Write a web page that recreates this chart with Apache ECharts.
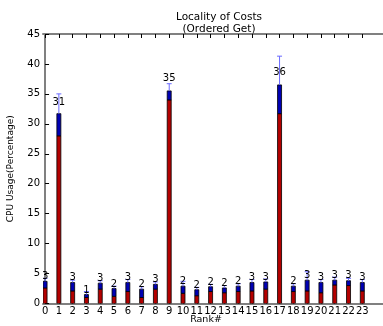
<!DOCTYPE html>
<html><head><meta charset="utf-8">
<script src="https://cdn.jsdelivr.net/npm/echarts@6/dist/echarts.min.js"></script>
<style>html,body{margin:0;padding:0;background:#fff}#c{width:383px;height:326px}</style>
</head><body><div id="c"></div>
<script>
var ranks = [0,1,2,3,4,5,6,7,8,9,10,11,12,13,14,15,16,17,18,19,20,21,22,23];
var lowerPart = [2.6,28.0,2.1,1.0,2.4,1.2,2.0,1.0,2.4,34.0,1.7,1.3,2.0,1.8,2.0,2.1,2.4,31.7,2.0,2.1,1.8,3.1,3.0,2.1];
var upperPart = [1.1,3.7,1.4,0.5,1.0,1.3,1.5,1.4,0.8,1.5,1.2,1.0,0.8,0.8,0.9,1.4,1.2,4.8,0.9,1.8,1.7,0.8,0.8,1.4];
var errors = [0.5,3.3,0.4,0.5,0.4,0.4,0.5,0.4,0.4,1.2,0.8,0.4,0.4,0.4,0.4,0.5,0.5,4.8,0.4,1.4,0.5,0.5,0.4,0.5];
var barLabels = ['3','31','3','1','3','2','3','2','3','35','2','2','2','2','2','3','3','36','2','3','3','3','3','3'];
var yTicks = [0,5,10,15,20,25,30,35,40,45];

var font = 'DejaVu Sans';
var chart = echarts.init(document.getElementById('c'), null, {renderer:'canvas'});
var barData = ranks.map(function(r,i){return [r, lowerPart[i], upperPart[i], errors[i], i];});

var axisLineStyle = {color:'#808080', width:2};
chart.setOption({
  animation:false,
  title:{text:'Locality of Costs\n(Ordered Get)', left:214, top:6, textAlign:'center',
    textStyle:{fontFamily:font, fontSize:10.5, fontWeight:'normal', color:'#000', lineHeight:12}},
  grid:{left:43, right:0, top:34, bottom:22.5, containLabel:false, outerBoundsMode:'none'},
  xAxis:[{
    type:'value', min:-0.15, max:24.5, position:'bottom',
    name:'Rank#', nameLocation:'middle', nameGap:11, nameMoveOverlap:false,
    nameTextStyle:{fontFamily:font, fontSize:9.5, color:'#000', padding:[0,0,0,-14]},
    axisLine:{show:true, onZero:false, lineStyle:axisLineStyle},
    axisTick:{show:true, inside:true, length:4, lineStyle:{color:'#000'}, customValues:ranks},
    axisLabel:{fontFamily:font, fontSize:10, color:'#000', margin:3, customValues:ranks},
    splitLine:{show:false}
  },{
    type:'value', min:-0.15, max:24.5, position:'top',
    axisLine:{show:true, onZero:false, lineStyle:axisLineStyle},
    axisTick:{show:true, inside:true, length:4, lineStyle:{color:'#000'}, customValues:ranks},
    axisLabel:{show:false},
    splitLine:{show:false}
  }],
  yAxis:{
    type:'value', min:0, max:45, interval:5,
    name:'CPU Usage(Percentage)', nameLocation:'middle', nameGap:28, nameMoveOverlap:false,
    nameTextStyle:{fontFamily:font, fontSize:9, color:'#000'},
    axisLine:{show:true, lineStyle:axisLineStyle},
    axisTick:{show:true, inside:true, length:4, lineStyle:{color:'#000'}},
    axisLabel:{fontFamily:font, fontSize:10, color:'#000', margin:3,
      formatter:function(v){return yTicks.indexOf(v)>=0 ? String(v) : '';}},
    splitLine:{show:false}
  },
  series:[
    {type:'custom', name:'bars', data:barData, z:3, clip:true,
      renderItem:function(params, api){
        var x = api.value(0), lo = api.value(1), up = api.value(2), e = api.value(3), idx = api.value(4);
        var m = lo + up;
        var p0 = api.coord([x, 0]);
        var p1 = api.coord([x, lo]);
        var p2 = api.coord([x, m]);
        var pe = api.coord([x, m + e]);
        var pl = api.coord([x, m * 1.04]);
        var w = 4;
        var c = '#6a6aff';
        return {type:'group', children:[
          {type:'rect', shape:{x:p1[0]-w/2, y:p1[1], width:w, height:p0[1]-p1[1]},
            style:{fill:'#b40000', stroke:'#000', lineWidth:0.8}},
          {type:'rect', shape:{x:p2[0]-w/2, y:p2[1], width:w, height:p1[1]-p2[1]},
            style:{fill:'#0000b4', stroke:'#000', lineWidth:0.8}},
          {type:'line', shape:{x1:pe[0], y1:pe[1], x2:p2[0], y2:p2[1]}, style:{stroke:c, lineWidth:1}},
          {type:'line', shape:{x1:pe[0]-2.5, y1:pe[1], x2:pe[0]+2.5, y2:pe[1]}, style:{stroke:c, lineWidth:1}},
          {type:'text', style:{text:barLabels[idx], x:pl[0], y:pl[1]+1, align:'center', verticalAlign:'bottom',
            font:'10px "DejaVu Sans"', fill:'#000'}}
        ]};
      }
    }
  ]
});
</script></body></html>
